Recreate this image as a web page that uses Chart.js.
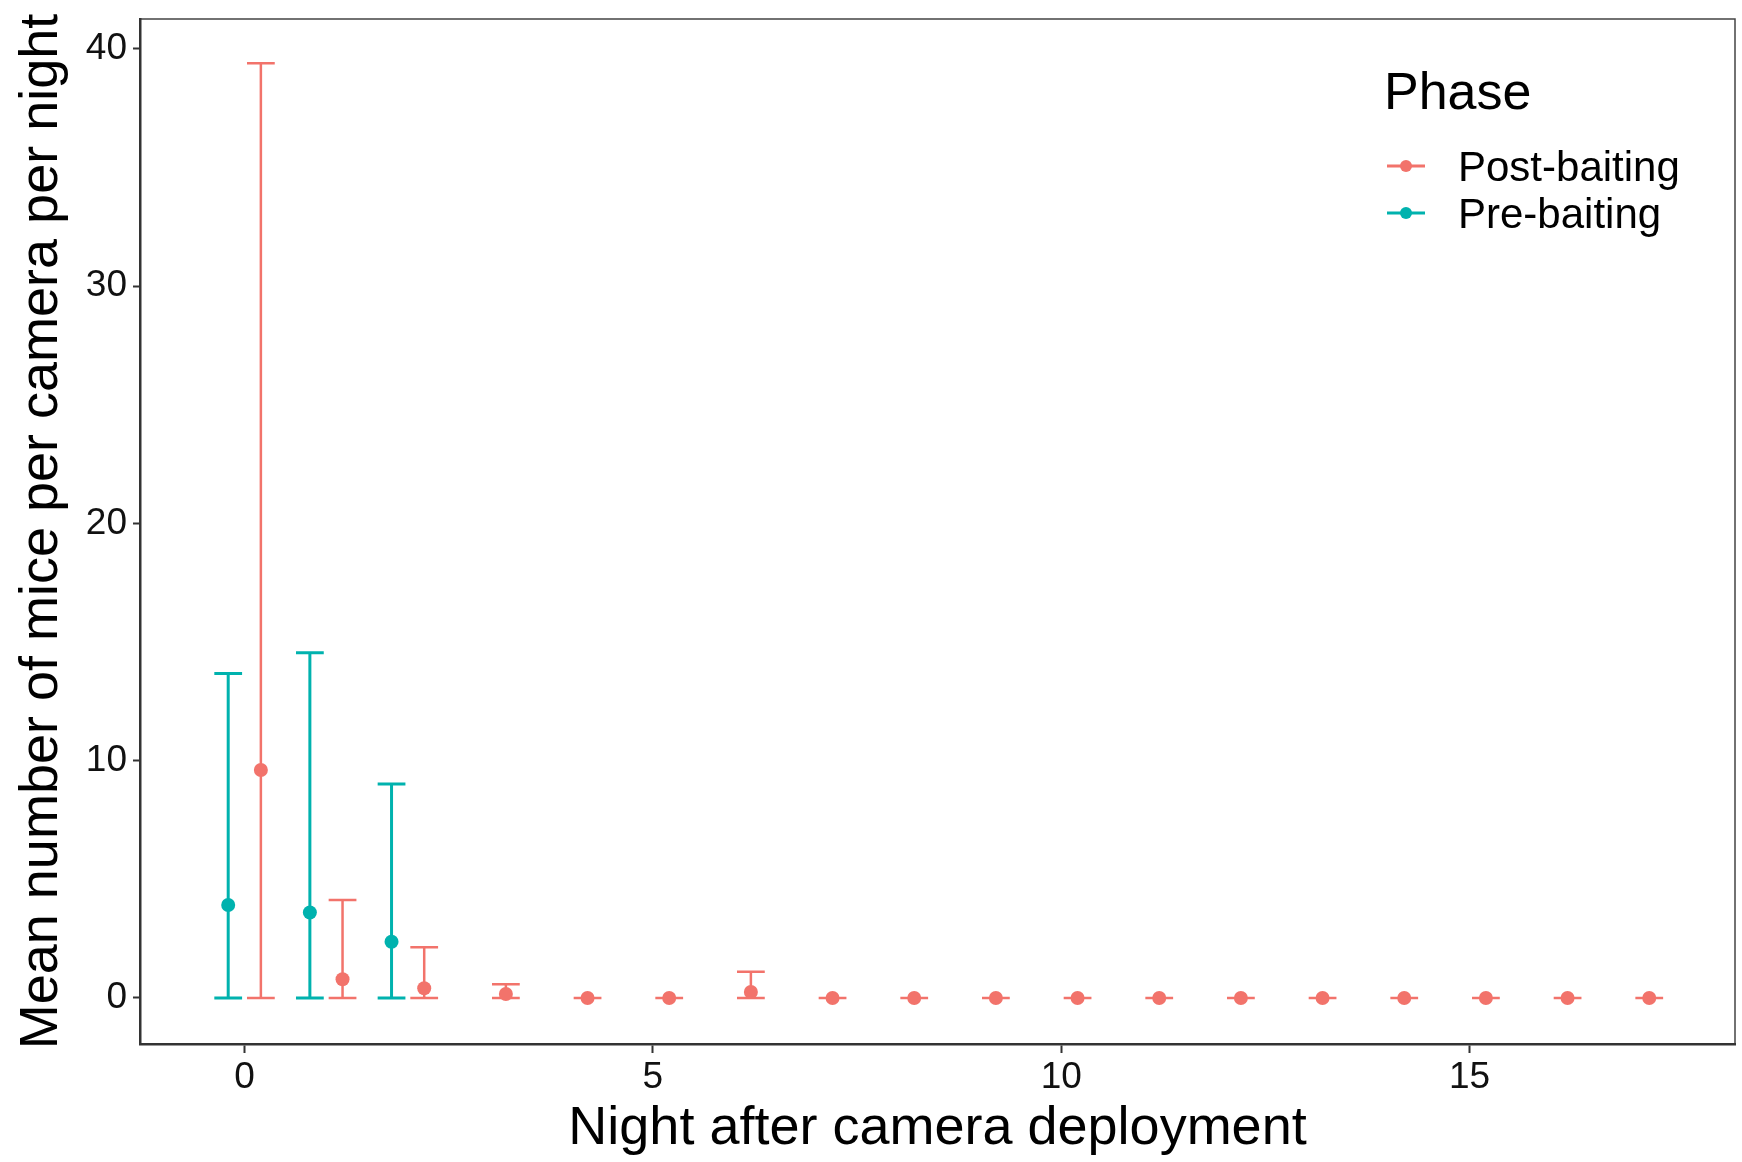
<!DOCTYPE html>
<html><head><meta charset="utf-8">
<script src="https://cdn.jsdelivr.net/npm/chart.js@4.4.1/dist/chart.umd.min.js"></script>
<style>html,body{margin:0;padding:0;background:#fff}canvas{display:block}</style>
</head><body>
<canvas id="c" width="1742" height="1162"></canvas>
<script>
// ---- data ----
const nightsPre = [0, 1, 2];
const preMean = [3.92, 3.6, 2.37];
const preLow  = [0, 0, 0];
const preHigh = [13.68, 14.55, 9.02];

const nightsPost = [0, 1, 2, 3, 4, 5, 6, 7, 8, 9, 10, 11, 12, 13, 14, 15, 16, 17];
const postMean = [9.61, 0.79, 0.41, 0.17, 0, 0, 0.25, 0, 0, 0, 0, 0, 0, 0, 0, 0, 0, 0];
const postLow  = [0, 0, 0, 0, 0, 0, 0, 0, 0, 0, 0, 0, 0, 0, 0, 0, 0, 0];
const postHigh = [39.4, 4.13, 2.14, 0.58, 0, 0, 1.11, 0, 0, 0, 0, 0, 0, 0, 0, 0, 0, 0];

const xTicks = [0, 5, 10, 15];
const yTicks = [0, 10, 20, 30, 40];
const seriesNames = ['Post-baiting', 'Pre-baiting'];
const legendTitle = 'Phase';
const xTitle = 'Night after camera deployment';
const yTitle = 'Mean number of mice per camera per night';

// ---- style ----
const RED = '#F2736B', TEAL = '#00B2AE';
const DODGE = 0.2, CAP = 0.17;
const FONT = "'Liberation Sans', Arial, sans-serif";

function makeData(nights, mean, lo, hi, off) {
  return nights.map((n, i) => ({ x: n + off, y: mean[i], lo: lo[i], hi: hi[i] }));
}

const datasets = [
  { label: seriesNames[0], data: makeData(nightsPost, postMean, postLow, postHigh, DODGE),
    backgroundColor: RED, borderColor: RED, errColor: RED, errWidth: 2.5, pointRadius: 7, pointBorderWidth: 0, showLine: false },
  { label: seriesNames[1], data: makeData(nightsPre, preMean, preLow, preHigh, -DODGE),
    backgroundColor: TEAL, borderColor: TEAL, errColor: TEAL, errWidth: 3, pointRadius: 7, pointBorderWidth: 0, showLine: false }
];

const background = {
  id: 'background',
  beforeDraw(chart) {
    const { ctx, chartArea: a } = chart;
    ctx.save();
    ctx.fillStyle = '#fff';
    ctx.fillRect(0, 0, chart.width, chart.height);
    ctx.strokeStyle = '#444';
    ctx.lineWidth = 1.5;
    ctx.beginPath();
    ctx.moveTo(a.left, a.top); ctx.lineTo(a.right, a.top); ctx.lineTo(a.right, a.bottom);
    ctx.stroke();
    ctx.restore();
  }
};

const errorBars = {
  id: 'errorBars',
  beforeDatasetsDraw(chart) {
    const { ctx, scales: { x, y } } = chart;
    chart.data.datasets.forEach(ds => {
      ctx.save();
      ctx.strokeStyle = ds.errColor;
      ctx.lineWidth = ds.errWidth;
      ds.data.forEach(p => {
        const px = x.getPixelForValue(p.x);
        const pl = x.getPixelForValue(p.x - CAP), pr = x.getPixelForValue(p.x + CAP);
        const yl = y.getPixelForValue(p.lo), yh = y.getPixelForValue(p.hi);
        ctx.beginPath();
        ctx.moveTo(px, yl); ctx.lineTo(px, yh);
        ctx.moveTo(pl, yl); ctx.lineTo(pr, yl);
        ctx.moveTo(pl, yh); ctx.lineTo(pr, yh);
        ctx.stroke();
      });
      ctx.restore();
    });
  }
};

const legendBox = {
  id: 'legendBox',
  afterDraw(chart) {
    const { ctx } = chart;
    ctx.save();
    ctx.fillStyle = '#000';
    ctx.textAlign = 'left';
    ctx.textBaseline = 'alphabetic';
    ctx.font = '52px ' + FONT;
    ctx.fillText(legendTitle, 1384, 109);
    const rows = [166, 213];
    chart.data.datasets.forEach((ds, i) => {
      const cy = rows[i];
      ctx.strokeStyle = ds.errColor;
      ctx.lineWidth = 2.8;
      ctx.beginPath(); ctx.moveTo(1387, cy); ctx.lineTo(1425, cy); ctx.stroke();
      ctx.fillStyle = ds.backgroundColor;
      ctx.beginPath(); ctx.arc(1406, cy, 6, 0, Math.PI * 2); ctx.fill();
      ctx.fillStyle = '#000';
      ctx.font = '42px ' + FONT;
      ctx.fillText(ds.label, 1458, cy + 15);
    });
    ctx.restore();
  }
};

new Chart(document.getElementById('c'), {
  type: 'scatter',
  data: { datasets },
  plugins: [background, errorBars, legendBox],
  options: {
    responsive: false,
    animation: false,
    devicePixelRatio: 1,
    layout: { padding: { top: 19, right: 2, left: 0, bottom: 0 } },
    plugins: { legend: { display: false }, tooltip: { enabled: false } },
    scales: {
      x: {
        type: 'linear', min: -1.28, max: 18.25,
        afterBuildTicks: s => { s.ticks = xTicks.map(v => ({ value: v })); },
        afterFit: s => { s.height = 118; s.paddingLeft = 0; s.paddingRight = 0; },
        grid: { display: true, drawOnChartArea: false, drawTicks: true, tickLength: 9, tickWidth: 2, tickColor: '#333' },
        border: { display: true, color: '#333', width: 2.5 },
        ticks: { font: { family: FONT, size: 37 }, color: '#111', padding: 3, maxRotation: 0, autoSkip: false },
        title: { display: true, text: xTitle, font: { family: FONT, size: 54 }, color: '#000', padding: { top: 0, bottom: 0 } }
      },
      y: {
        type: 'linear', min: -1.94, max: 41.26,
        afterBuildTicks: s => { s.ticks = yTicks.map(v => ({ value: v })); },
        afterFit: s => { s.width = 140; s.paddingTop = 0; s.paddingBottom = 0; },
        grid: { display: true, drawOnChartArea: false, drawTicks: true, tickLength: 7, tickWidth: 2, tickColor: '#333' },
        border: { display: true, color: '#333', width: 2.5 },
        ticks: { font: { family: FONT, size: 37 }, color: '#111', padding: 6, autoSkip: false },
        title: { display: true, text: yTitle, font: { family: FONT, size: 54 }, color: '#000', padding: { top: 10, bottom: 0 } }
      }
    }
  }
});
</script>
</body></html>
